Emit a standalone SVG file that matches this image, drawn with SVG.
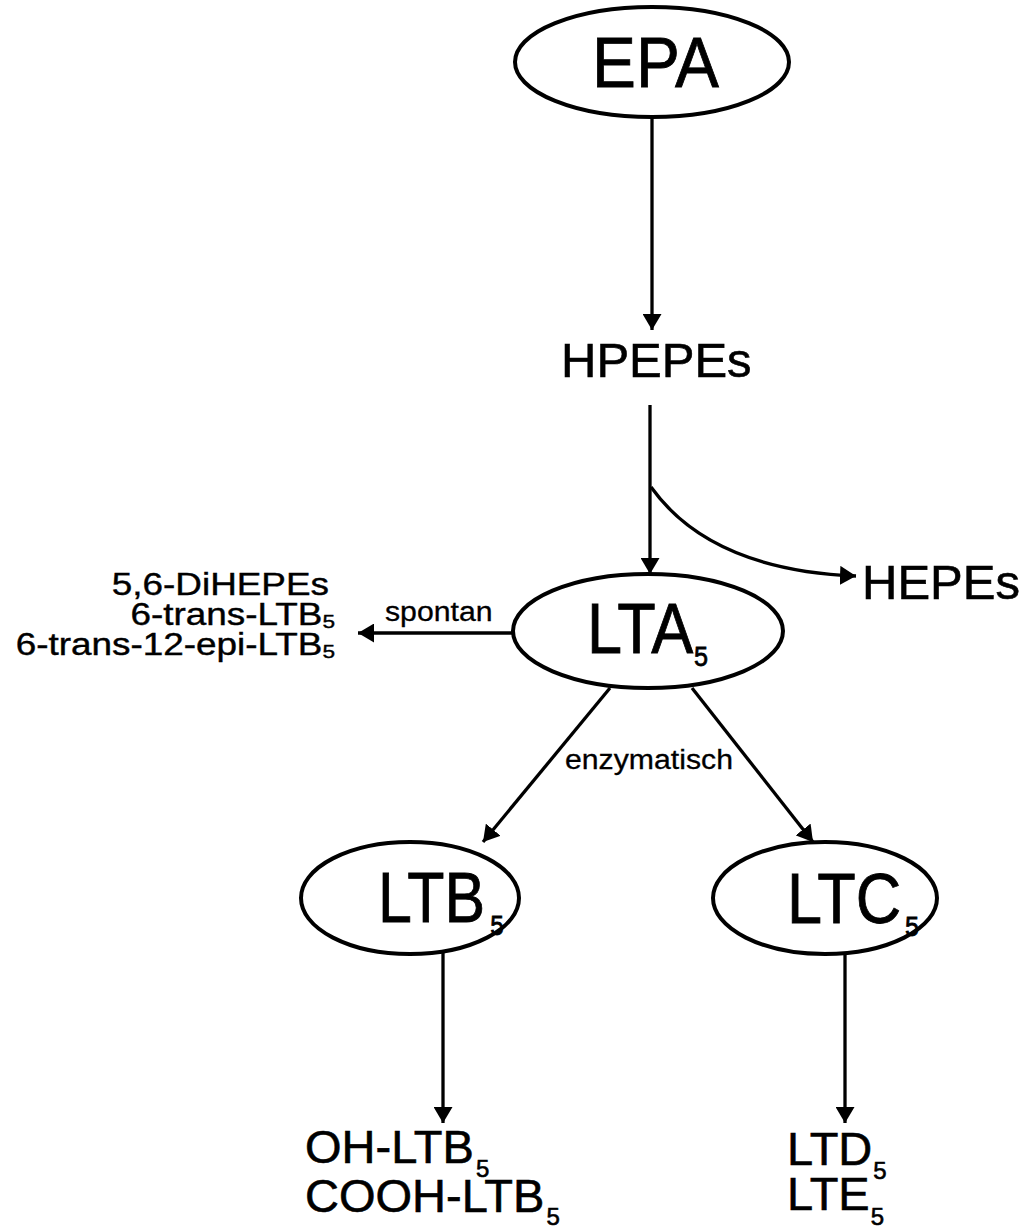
<svg xmlns="http://www.w3.org/2000/svg" width="1031" height="1230" viewBox="0 0 1031 1230">
<style>
  .node { fill: #ffffff; stroke: #000000; stroke-width: 4; }
  .edge { fill: none; stroke: #000000; stroke-width: 3.3; }
  text { font-family: "Liberation Sans", Arial, sans-serif; fill: #000000; stroke: #000000; }
  .big { font-size: 70px; stroke-width: 0.8; }
  .mid { font-size: 49px; stroke-width: 0.6; }
  .low { font-size: 47px; stroke-width: 0.6; }
  .side { font-size: 31px; stroke-width: 0.4; }
  .lab { font-size: 27px; stroke-width: 0.3; }
  .sb { font-size: 28px; }
  .sl { font-size: 24px; }
  .ss { font-size: 19px; }
</style>
<defs>
  <marker id="arrow" markerUnits="userSpaceOnUse" markerWidth="17" markerHeight="19" refX="16" refY="9.5" orient="auto" viewBox="0 0 17 19">
    <path d="M0,0 L16,9.5 L0,19 z" fill="#000000"/>
  </marker>
</defs>
<rect x="0" y="0" width="1031" height="1230" fill="#ffffff"/>

<g id="connectors">
  <path class="edge" d="M652,117 L652,330" marker-end="url(#arrow)"/>
  <path class="edge" d="M650,405 L650,574" marker-end="url(#arrow)"/>
  <path class="edge" d="M651,487 Q710,570 856,576" marker-end="url(#arrow)"/>
  <path class="edge" d="M513,633 L358,633" marker-end="url(#arrow)"/>
  <path class="edge" d="M610,688 L483,842" marker-end="url(#arrow)"/>
  <path class="edge" d="M692,688 L813,842" marker-end="url(#arrow)"/>
  <path class="edge" d="M443,953 L443,1123" marker-end="url(#arrow)"/>
  <path class="edge" d="M845,953 L845,1123" marker-end="url(#arrow)"/>
  <text class="lab" transform="translate(385,621) scale(1.12,1)">spontan</text>
  <text class="lab" transform="translate(565,769) scale(1.12,1)">enzymatisch</text>
</g>

<g id="EPA">
  <ellipse class="node" cx="652" cy="62" rx="137" ry="55"/>
  <text class="big" transform="translate(592,87) scale(0.94,1)">EPA</text>
</g>

<g id="HPEPEs">
  <text class="mid" x="561" y="377">HPEPEs</text>
</g>

<g id="HEPEs">
  <text class="mid" x="862" y="599">HEPEs</text>
</g>

<g id="LTA5">
  <ellipse class="node" cx="648" cy="631" rx="135" ry="57"/>
  <text class="big" transform="translate(587,653) scale(0.9,1)">LTA<tspan class="sb" dx="1" dy="13">5</tspan></text>
</g>

<g id="spontan-products">
  <text class="side" text-anchor="end" transform="translate(329,595) scale(1.19,1)">5,6-DiHEPEs</text>
  <text class="side" text-anchor="end" transform="translate(335,625) scale(1.19,1)">6-trans-LTB<tspan class="ss" dy="3">5</tspan></text>
  <text class="side" text-anchor="end" transform="translate(335,655) scale(1.19,1)">6-trans-12-epi-LTB<tspan class="ss" dy="3">5</tspan></text>
</g>

<g id="LTB5">
  <ellipse class="node" cx="410" cy="898" rx="109" ry="56"/>
  <text class="big" transform="translate(378,922) scale(0.87,1)">LTB<tspan class="sb" dx="6" dy="13">5</tspan></text>
</g>

<g id="LTC5">
  <ellipse class="node" cx="825" cy="898" rx="112" ry="56"/>
  <text class="big" transform="translate(787,923) scale(0.9,1)">LTC<tspan class="sb" dx="4" dy="13">5</tspan></text>
</g>

<g id="LTB5-products">
  <text class="low" x="305" y="1163">OH-LTB<tspan class="sl" dx="2" dy="14">5</tspan></text>
  <text class="low" x="305" y="1212">COOH-LTB<tspan class="sl" dx="2" dy="13">5</tspan></text>
</g>

<g id="LTC5-products">
  <text class="low" x="787" y="1165">LTD<tspan class="sl" dx="1" dy="14">5</tspan></text>
  <text class="low" x="787" y="1210">LTE<tspan class="sl" dx="1" dy="15">5</tspan></text>
</g>
</svg>
